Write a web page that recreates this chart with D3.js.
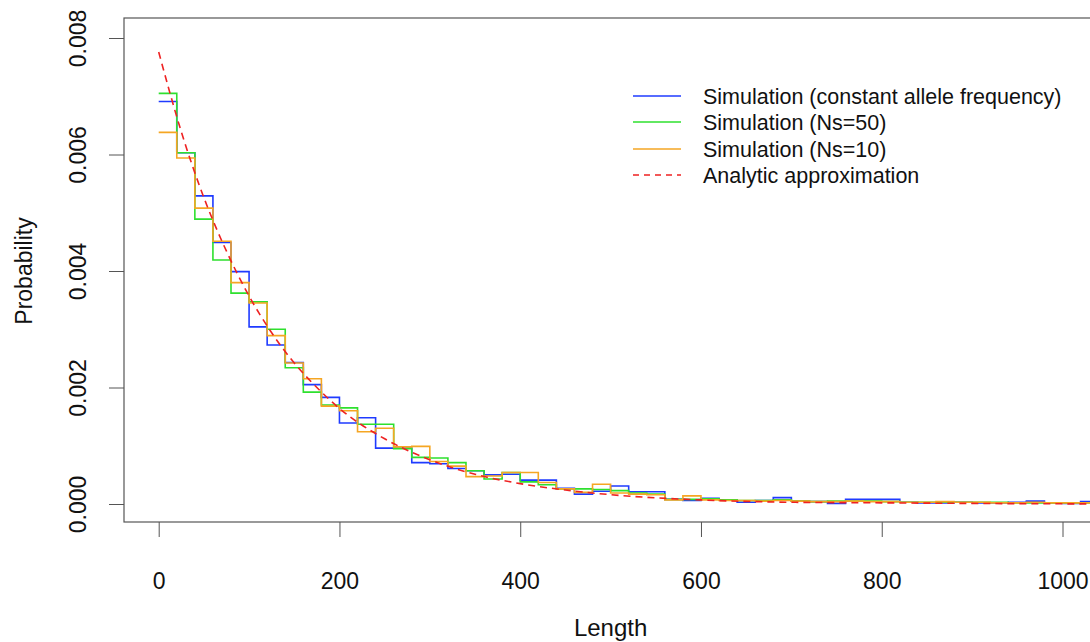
<!DOCTYPE html>
<html><head><meta charset="utf-8">
<script src="https://cdn.jsdelivr.net/npm/d3@7"></script>
<style>body{margin:0;background:#fff}text{font-family:"Liberation Sans",Arial,sans-serif;fill:#111}</style>
</head><body><svg id="c" width="1090" height="642"></svg>
<script>
// bin left edges (Length), width 20
const binEdges = [0,20,40,60,80,100,120,140,160,180,200,220,240,260,280,300,320,340,360,380,400,420,440,460,480,500,520,540,560,580,600,620,640,660,680,700,720,740,760,780,800,820,840,860,880,900,920,940,960,980,1000,1020,1040];
const simConstant = [0.00691,0.00603,0.00529,0.00449,0.00399,0.00304,0.00273,0.00243,0.00205,0.00183,0.00139,0.00148,0.00096,0.00096,0.00071,0.00069,0.00061,0.00057,0.00050,0.00051,0.00041,0.00041,0.00027,0.00017,0.00022,0.00031,0.00021,0.00021,0.00008,0.00006,0.00010,0.00007,0.00003,0.00006,0.00011,0.00005,0.00004,0.00001,0.00008,0.00008,0.00008,0.00003,0.00002,0.00002,0.00003,0.00002,0.00002,0.00003,0.00005,0.00002,0.00001,0.00004];
const simNs50 = [0.00705,0.00603,0.00489,0.00419,0.00362,0.00347,0.00300,0.00234,0.00192,0.00170,0.00165,0.00137,0.00137,0.00095,0.00080,0.00079,0.00071,0.00057,0.00043,0.00054,0.00038,0.00033,0.00026,0.00026,0.00025,0.00023,0.00019,0.00017,0.00008,0.00008,0.00009,0.00007,0.00006,0.00006,0.00007,0.00005,0.00004,0.00005,0.00005,0.00005,0.00004,0.00003,0.00003,0.00003,0.00003,0.00003,0.00003,0.00002,0.00002,0.00002,0.00002,0.00002];
const simNs10 = [0.00638,0.00594,0.00508,0.00451,0.00380,0.00345,0.00289,0.00242,0.00215,0.00168,0.00160,0.00124,0.00130,0.00098,0.00099,0.00073,0.00065,0.00047,0.00048,0.00054,0.00054,0.00037,0.00026,0.00020,0.00034,0.00019,0.00017,0.00016,0.00007,0.00014,0.00007,0.00006,0.00006,0.00005,0.00006,0.00005,0.00004,0.00004,0.00005,0.00004,0.00004,0.00003,0.00003,0.00004,0.00003,0.00003,0.00002,0.00002,0.00003,0.00002,0.00002,0.00002];
const analyticX = [0,25,50,75,100,125,150,175,200,250,300,350,400,450,500,600,700,800,900,1000,1100];
const analyticY = [0.00776,0.00639,0.00526,0.00434,0.00357,0.00294,0.00242,0.00200,0.00164,0.00112,0.00076,0.00051,0.00035,0.00024,0.00016,0.00007,0.00003,0.00002,0.00001,0.000003,0.000001];
const xTicks = [0,200,400,600,800,1000];
const yTicks = [0.000,0.002,0.004,0.006,0.008];
const legendLabels = ["Simulation (constant allele frequency)","Simulation (Ns=50)","Simulation (Ns=10)","Analytic approximation"];
const seriesColors = ["#1f3bff","#2ee02e","#f5a623","#ee2222"];

const svg = d3.select("#c");
const x = d3.scaleLinear().domain([0,1000]).range([158.7,1062.5]);
const y = d3.scaleLinear().domain([0,0.008]).range([504,38]);
const box = {l:124, t:18, b:522, r:1136};

svg.append("defs").append("clipPath").attr("id","clip")
  .append("rect").attr("x",box.l).attr("y",box.t).attr("width",box.r-box.l).attr("height",box.b-box.t);

// box
svg.append("rect").attr("x",box.l).attr("y",box.t).attr("width",box.r-box.l).attr("height",box.b-box.t)
  .attr("fill","none").attr("stroke","#555").attr("stroke-width",1.2);

// x axis
const xAxis = d3.axisBottom(x).tickValues(xTicks).tickSize(15).tickPadding(36).tickFormat(d3.format("d"));
const gx = svg.append("g").attr("transform",`translate(0,${box.b})`).call(xAxis);
gx.select(".domain").remove();
gx.selectAll("line").attr("stroke","#555");
gx.selectAll("text").attr("font-size",23).style("font-family","'Liberation Sans',Arial,sans-serif").attr("fill","#111");

// y axis
const yAxis = d3.axisLeft(y).tickValues(yTicks).tickSize(15).tickFormat(d3.format(".3f"));
const gy = svg.append("g").attr("transform",`translate(${box.l},0)`).call(yAxis);
gy.select(".domain").remove();
gy.selectAll("line").attr("stroke","#555");
gy.selectAll("text").attr("font-size",23).style("font-family","'Liberation Sans',Arial,sans-serif").attr("fill","#111")
  .attr("text-anchor","middle").attr("x",0)
  .attr("transform","translate(-46,0) rotate(-90)").attr("dy","0.35em");

// axis titles
svg.append("text").attr("x",x(500)).attr("y",636).attr("text-anchor","middle").attr("font-size",24).text("Length");
svg.append("text").attr("transform","translate(32,271) rotate(-90)").attr("text-anchor","middle").attr("font-size",23).text("Probability");

const plot = svg.append("g").attr("clip-path","url(#clip)");
const step = d3.line().x(d=>x(d[0])).y(d=>y(d[1])).curve(d3.curveStepAfter);
function stepData(vals){
  const pts = vals.map((v,i)=>[binEdges[i],v]);
  pts.push([binEdges[vals.length], vals[vals.length-1]]);
  return pts;
}
[simConstant, simNs50, simNs10].forEach((s,i)=>{
  plot.append("path").datum(stepData(s)).attr("d",step).attr("fill","none")
    .attr("stroke",seriesColors[i]).attr("stroke-width",1.6);
});
const smooth = d3.line().x(d=>x(d[0])).y(d=>y(d[1])).curve(d3.curveMonotoneX);
plot.append("path").datum(analyticX.map((v,i)=>[v,analyticY[i]])).attr("d",smooth).attr("fill","none")
  .attr("stroke",seriesColors[3]).attr("stroke-width",1.6).attr("stroke-dasharray","7,5");

// legend
const lg = svg.append("g");
const rowsY = [96,122,149,175];
legendLabels.forEach((t,i)=>{
  lg.append("line").attr("x1",633).attr("x2",681).attr("y1",rowsY[i]).attr("y2",rowsY[i])
    .attr("stroke",seriesColors[i]).attr("stroke-width",1.4).attr("stroke-dasharray", i===3?"6,5":null);
  lg.append("text").attr("x",703).attr("y",rowsY[i]).attr("dy","0.35em").attr("font-size",21.5).text(t);
});
</script></body></html>
